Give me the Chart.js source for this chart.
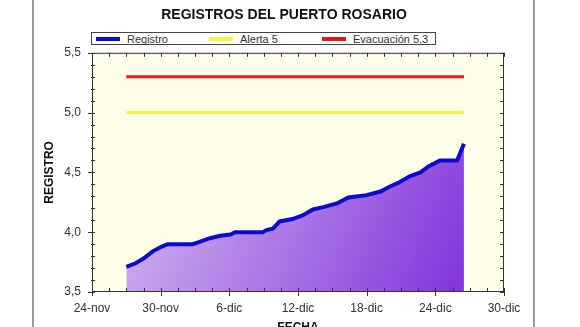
<!DOCTYPE html>
<html>
<head>
<meta charset="utf-8">
<script src="https://cdn.jsdelivr.net/npm/chart.js@4.4.1/dist/chart.umd.min.js"></script>
<style>
  body { margin: 0; background: #fff; overflow: hidden; font-family: "Liberation Sans", Arial, sans-serif; }
  #wrap { position: relative; width: 580px; height: 345px; }
  #frame { position: absolute; left: 32px; top: 0; width: 499px; height: 345px; border-left: 2px solid #9a9a9a; border-right: 2px solid #9a9a9a; }
  #legend { position: absolute; left: 91px; top: 32px; width: 345px; height: 13px; box-sizing: border-box; border: 1px solid #444; background: #fff; display: flex; padding-left: 4px; }
  #legend .item { width: 114px; display: flex; align-items: center; font-size: 11px; color: #333; white-space: nowrap; }
  #legend .swatch { width: 24px; height: 4px; margin-right: 7px; }
  canvas { position: absolute; left: 0; top: 0; }
</style>
</head>
<body>
<div id="wrap">
  <div id="frame"></div>
  <canvas id="myChart" width="580" height="345"></canvas>
  <div id="legend"></div>
</div>
<script>
// days counted from 24-nov
const days = [3.0, 3.8, 4.5, 5.3, 6.1, 6.6, 8.8, 9.4, 10.3, 11.2, 12.1, 12.5, 14.9, 15.3, 15.8, 16.4,
  17.5, 18.4, 19.3, 20.2, 21.4, 22.4, 24.0, 25.2, 26.0, 26.9, 27.8, 28.7, 29.4, 30.4, 31.9, 32.5];
const registro = [3.71, 3.74, 3.78, 3.84, 3.88, 3.90, 3.90, 3.92, 3.95, 3.97, 3.98, 4.00, 4.00, 4.02, 4.03, 4.09,
  4.11, 4.14, 4.19, 4.21, 4.24, 4.29, 4.31, 4.34, 4.38, 4.42, 4.47, 4.50, 4.55, 4.60, 4.60, 4.74];
const alerta = 5;
const evacuacion = 5.3;
const xTickLabels = ['24-nov', '30-nov', '6-dic', '12-dic', '18-dic', '24-dic', '30-dic'];

Chart.defaults.font.family = "'Liberation Sans', Arial, sans-serif";

const firstDay = days[0];
const lastDay = days[days.length - 1];

function purpleFill(context) {
  const chart = context.chart;
  if (!chart.chartArea) return null;
  const xs = chart.scales.x, ys = chart.scales.y;
  const g = chart.ctx.createLinearGradient(
    xs.getPixelForValue(firstDay), ys.getPixelForValue(Math.max(...registro)),
    xs.getPixelForValue(lastDay), chart.chartArea.bottom);
  g.addColorStop(0, '#d3b8ef');
  g.addColorStop(1, '#8234dc');
  return g;
}

const frameTicks = {
  id: 'frameTicks',
  beforeDraw(chart) {
    const {ctx, chartArea: a} = chart;
    ctx.save();
    ctx.fillStyle = '#fefee9';
    ctx.fillRect(a.left, a.top, a.width, a.height);
    ctx.restore();
  },
  afterDatasetsDraw(chart) {
    const {ctx, chartArea: a, scales: {x, y}} = chart;
    ctx.save();
    ctx.strokeStyle = '#333';
    ctx.lineWidth = 1;
    ctx.strokeRect(a.left + 0.5, a.top + 0.5, a.width - 1, a.height - 1);
    ctx.beginPath();
    for (let d = x.min; d <= x.max + 1e-6; d += 1.5) {
      const px = Math.round(x.getPixelForValue(d)) + 0.5;
      const major = Math.abs(d / 6 - Math.round(d / 6)) < 1e-6;
      ctx.moveTo(px, a.bottom + (major ? 4 : 0)); ctx.lineTo(px, a.bottom - 4);
      ctx.moveTo(px, a.top); ctx.lineTo(px, a.top + 4);
    }
    for (let v = y.min; v <= y.max + 1e-6; v += 0.1) {
      const py = Math.round(y.getPixelForValue(v)) + 0.5;
      const major = Math.abs(v / 0.5 - Math.round(v / 0.5)) < 1e-6;
      ctx.moveTo(a.left - (major ? 4 : 1), py); ctx.lineTo(a.left + 3, py);
      ctx.moveTo(a.right - 4, py); ctx.lineTo(a.right, py);
    }
    ctx.stroke();
    ctx.restore();
  }
};

const ctx = document.getElementById('myChart').getContext('2d');
const chart = new Chart(ctx, {
  type: 'line',
  data: {
    datasets: [{
      label: 'Registro',
      data: days.map((d, i) => ({x: d, y: registro[i]})),
      borderColor: '#0b0bd0',
      backgroundColor: purpleFill,
      borderWidth: 4,
      pointRadius: 0,
      fill: 'start',
      tension: 0
    }, {
      label: 'Alerta 5',
      data: [{x: firstDay, y: alerta}, {x: lastDay, y: alerta}],
      borderColor: '#f6f63a',
      borderWidth: 3,
      pointRadius: 0,
      fill: false
    }, {
      label: 'Evacuación 5,3',
      data: [{x: firstDay, y: evacuacion}, {x: lastDay, y: evacuacion}],
      borderColor: '#e01a1a',
      borderWidth: 3,
      pointRadius: 0,
      fill: false
    }]
  },
  options: {
    responsive: false,
    animation: false,
    layout: { padding: { left: 0, right: 12, top: 0, bottom: 0 } },
    plugins: {
      legend: { display: false },
      tooltip: { enabled: false },
      title: {
        display: true,
        text: 'REGISTROS DEL PUERTO ROSARIO',
        color: '#111',
        font: { size: 14, weight: 'bold' },
        padding: { top: 7, bottom: 29 }
      }
    },
    scales: {
      x: {
        type: 'linear',
        min: 0,
        max: 36,
        grid: { display: false, drawTicks: false },
        border: { display: false },
        ticks: {
          stepSize: 6,
          padding: 9,
          color: '#333',
          font: { size: 12 },
          callback: v => xTickLabels[Math.round(v / 6)]
        },
        title: { display: true, text: 'FECHA', color: '#111', font: { size: 12, weight: 'bold' }, padding: { top: 0, bottom: 10 } },
        afterFit: s => { s.height = 53; }
      },
      y: {
        min: 3.5,
        max: 5.5,
        grid: { display: false, drawTicks: false },
        border: { display: false },
        ticks: {
          stepSize: 0.5,
          padding: 11,
          color: '#333',
          font: { size: 12 },
          callback: v => v.toFixed(1).replace('.', ',')
        },
        title: { display: true, text: 'REGISTRO', color: '#111', font: { size: 12, weight: 'bold' }, padding: { top: 42, bottom: 0 } },
        afterFit: s => { s.width = 92; }
      },
      y2: {
        position: 'right',
        min: 3.5,
        max: 5.5,
        grid: { display: false, drawTicks: false },
        border: { display: false },
        ticks: { display: false },
        afterFit: s => { s.width = 64; }
      }
    }
  },
  plugins: [frameTicks]
});

// boxed legend row like the original
const legend = document.getElementById('legend');
chart.data.datasets.forEach(ds => {
  const item = document.createElement('div');
  item.className = 'item';
  const sw = document.createElement('span');
  sw.className = 'swatch';
  sw.style.background = ds.borderColor;
  item.appendChild(sw);
  item.appendChild(document.createTextNode(ds.label));
  legend.appendChild(item);
});
</script>
</body>
</html>
